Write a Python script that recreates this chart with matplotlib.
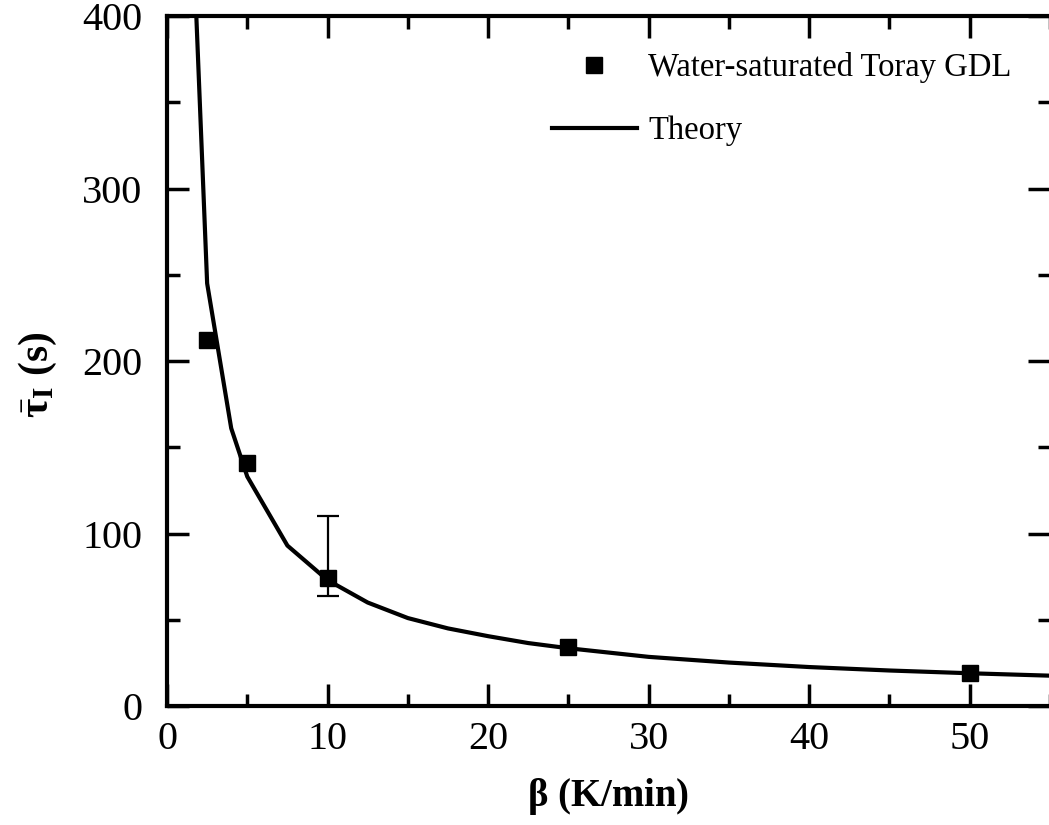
import matplotlib.pyplot as plt
from matplotlib.ticker import MultipleLocator

plt.rcParams['font.family'] = ['Liberation Serif', 'DejaVu Serif']
plt.rcParams['mathtext.fontset'] = 'custom'
plt.rcParams['mathtext.rm'] = 'Liberation Serif'
plt.rcParams['mathtext.it'] = 'Liberation Serif:italic'
plt.rcParams['mathtext.bf'] = 'Liberation Serif:bold'

# measured points (heating rate vs mean freezing time)
beta_exp = [2.5, 5, 10, 25, 50]
tau_exp = [212, 141, 74, 34, 19]
err_lo = [0, 0, 10, 0, 0]
err_hi = [0, 0, 36, 0, 0]

# theory curve
beta_th = [1, 2.5, 4, 5, 7.5, 10, 12.5, 15, 17.5, 20, 22.5, 25, 30, 35, 40, 45, 50, 55]
tau_th = [590, 245, 161, 133, 93, 73, 60, 51, 45, 40.5, 36.5, 33.5, 28.5, 25.2, 22.6, 20.6, 19, 17.6]

fig = plt.figure(figsize=(10.49, 8.25), dpi=100)
ax = fig.add_axes([0.1592, 0.1442, 0.8418, 0.8364])

ax.plot(beta_th, tau_th, color='black', lw=3, label='Theory', zorder=2)
ax.plot(beta_exp, tau_exp, 's', color='black', ms=11,
        label='Water-saturated Toray GDL', zorder=3)
# only the 10 K/min point has an error bar
idx = [i for i in range(len(beta_exp)) if err_lo[i] or err_hi[i]]
ax.errorbar([beta_exp[i] for i in idx], [tau_exp[i] for i in idx],
            yerr=[[err_lo[i] for i in idx], [err_hi[i] for i in idx]],
            fmt='none', ecolor='black', elinewidth=1.6, capsize=8, capthick=1.6, zorder=2)

ax.set_xlim(0, 55)
ax.set_ylim(0, 400)
ax.xaxis.set_major_locator(MultipleLocator(10))
ax.xaxis.set_minor_locator(MultipleLocator(5))
ax.yaxis.set_major_locator(MultipleLocator(100))
ax.yaxis.set_minor_locator(MultipleLocator(50))

for s in ax.spines.values():
    s.set_linewidth(3)
ax.tick_params(which='both', direction='in', top=True, right=True, width=2.5)
ax.tick_params(which='major', length=16, labelsize=29)
ax.tick_params(which='minor', length=9)
ax.tick_params(axis='x', pad=11)
ax.tick_params(axis='y', pad=18)

ax.set_xlabel(r'$\mathbf{\beta}$ (K/min)', fontsize=28, fontweight='bold')
ax.set_ylabel(r'$\bar{\mathbf{\tau}}_\mathbf{I}$ (s)', fontsize=30, fontweight='bold')
ax.xaxis.set_label_coords(0.5, -0.102)
ax.yaxis.set_label_coords(-0.122, 0.48)

h, l = ax.get_legend_handles_labels()
ax.legend(h[::-1], l[::-1], loc='upper left', bbox_to_anchor=(552 / 1049, 1 - 52 / 825),
          bbox_transform=fig.transFigure, frameon=False, fontsize=23.5,
          handlelength=2.6, handletextpad=0.35, labelspacing=1.0,
          borderpad=0, borderaxespad=0)

fig.savefig('out.png', dpi=100)
